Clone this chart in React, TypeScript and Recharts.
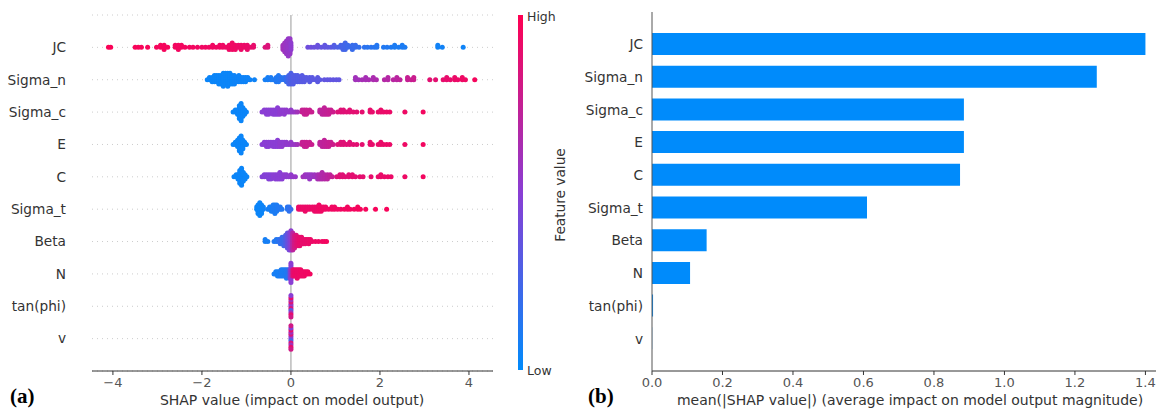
import {
  ScatterChart,
  Scatter,
  XAxis,
  YAxis,
  CartesianGrid,
  ReferenceLine,
  BarChart,
  Bar,
} from "recharts";

// feature order, top to bottom
const features = ["JC", "Sigma_n", "Sigma_c", "E", "C", "Sigma_t", "Beta", "N", "tan(phi)", "v"];
const meanAbsShap = [1.4, 1.262, 0.885, 0.885, 0.874, 0.61, 0.155, 0.108, 0.003, 0.0005];
const shapTicks = [-4, -2, 0, 2, 4];
const meanTicks = [0, 0.2, 0.4, 0.6, 0.8, 1.0, 1.2, 1.4];

// swarm clusters: [shap value, number of samples, feature value 0..1]
type Cluster = [number, number, number];

const jcSwarm: Cluster[] = [
  [-4.1, 1, 0.98], [-4.05, 1, 0.98],
  [-3.5, 1, 0.97], [-3.43, 1, 0.97], [-3.36, 1, 0.97], [-3.22, 1, 0.97],
  [-3.02, 1, 0.96], [-2.93, 2, 0.96], [-2.85, 3, 0.96], [-2.77, 1, 0.96],
  [-2.6, 2, 0.95], [-2.53, 3, 0.95], [-2.46, 2, 0.95], [-2.38, 1, 0.95], [-2.28, 1, 0.95], [-2.2, 1, 0.95],
  [-2.1, 1, 0.94], [-2.0, 1, 0.94], [-1.92, 1, 0.94], [-1.84, 1, 0.94], [-1.76, 2, 0.94], [-1.68, 1, 0.94],
  [-1.6, 2, 0.94], [-1.53, 2, 0.93], [-1.46, 1, 0.93],
  [-1.39, 3, 0.93], [-1.32, 4, 0.93], [-1.25, 3, 0.93], [-1.18, 2, 0.92], [-1.12, 3, 0.92], [-1.05, 2, 0.92],
  [-0.98, 3, 0.91], [-0.9, 1, 0.9], [-0.84, 2, 0.9],
  [-0.58, 1, 0.85], [-0.52, 2, 0.85],
  [-0.18, 3, 0.6], [-0.14, 5, 0.58], [-0.1, 7, 0.56], [-0.06, 9, 0.55], [-0.02, 8, 0.55], [0.0, 4, 0.52],
  [0.38, 1, 0.4], [0.45, 1, 0.4], [0.52, 1, 0.38], [0.6, 2, 0.38], [0.68, 1, 0.36], [0.76, 2, 0.35],
  [0.83, 1, 0.34], [0.9, 1, 0.33], [0.97, 2, 0.3], [1.05, 1, 0.28], [1.12, 2, 0.26], [1.17, 3, 0.25],
  [1.22, 4, 0.24], [1.28, 2, 0.22],
  [1.38, 3, 0.2], [1.45, 2, 0.2], [1.53, 1, 0.18], [1.65, 1, 0.16], [1.72, 1, 0.15], [1.8, 1, 0.15],
  [1.87, 1, 0.14], [1.93, 2, 0.13],
  [2.08, 1, 0.12], [2.16, 1, 0.12], [2.25, 1, 0.11], [2.33, 2, 0.1], [2.42, 1, 0.1], [2.5, 2, 0.1], [2.56, 1, 0.1],
  [3.3, 2, 0.06], [3.4, 1, 0.06], [3.87, 1, 0.05],
];

const sigmaNSwarm: Cluster[] = [
  [-1.88, 1, 0.04], [-1.83, 2, 0.04], [-1.77, 3, 0.04], [-1.72, 4, 0.04], [-1.67, 4, 0.04], [-1.62, 5, 0.04],
  [-1.57, 5, 0.04], [-1.52, 7, 0.04], [-1.47, 6, 0.04], [-1.42, 7, 0.04], [-1.37, 6, 0.04], [-1.32, 5, 0.04],
  [-1.27, 5, 0.05], [-1.22, 3, 0.05], [-1.17, 4, 0.05], [-1.12, 3, 0.05], [-1.07, 3, 0.05], [-1.02, 3, 0.05],
  [-0.97, 2, 0.05], [-0.92, 1, 0.05], [-0.82, 1, 0.05],
  [-0.58, 1, 0.08], [-0.52, 2, 0.08], [-0.45, 2, 0.1], [-0.4, 1, 0.1], [-0.33, 3, 0.12], [-0.28, 4, 0.12],
  [-0.22, 2, 0.15], [-0.15, 2, 0.15], [-0.1, 3, 0.2], [-0.05, 5, 0.25], [0.0, 6, 0.28],
  [0.05, 5, 0.3], [0.1, 4, 0.3], [0.15, 4, 0.3], [0.2, 3, 0.3], [0.25, 4, 0.32], [0.3, 3, 0.32],
  [0.35, 2, 0.32], [0.42, 3, 0.32], [0.48, 2, 0.33], [0.55, 1, 0.33], [0.6, 3, 0.33], [0.65, 1, 0.33],
  [0.75, 1, 0.35], [0.82, 1, 0.35], [0.88, 1, 0.35], [0.95, 1, 0.35], [1.02, 1, 0.35], [1.08, 1, 0.35],
  [1.45, 2, 0.6], [1.52, 1, 0.6], [1.6, 1, 0.62], [1.68, 2, 0.62], [1.75, 1, 0.63], [1.85, 2, 0.64], [1.92, 1, 0.65],
  [2.1, 1, 0.68], [2.18, 2, 0.68], [2.3, 1, 0.7], [2.38, 2, 0.7], [2.45, 1, 0.72],
  [2.62, 2, 0.75], [2.7, 1, 0.76], [2.76, 2, 0.77],
  [3.12, 1, 0.88], [3.25, 1, 0.88], [3.42, 1, 0.9], [3.5, 2, 0.9], [3.58, 1, 0.9], [3.68, 2, 0.92],
  [3.75, 1, 0.92], [3.85, 2, 0.93], [3.92, 1, 0.93], [4.13, 1, 0.96],
];

const sigmaCSwarm: Cluster[] = [
  [-1.3, 1, 0.04], [-1.25, 2, 0.04], [-1.2, 3, 0.04], [-1.16, 7, 0.04], [-1.12, 9, 0.04], [-1.08, 5, 0.04],
  [-1.04, 3, 0.04], [-1.0, 1, 0.04],
  [-0.65, 1, 0.5], [-0.6, 2, 0.5], [-0.55, 3, 0.5], [-0.5, 3, 0.5], [-0.45, 2, 0.5], [-0.4, 3, 0.5],
  [-0.35, 3, 0.5], [-0.3, 4, 0.5], [-0.25, 3, 0.52], [-0.2, 2, 0.52], [-0.15, 3, 0.52], [-0.1, 2, 0.53],
  [-0.05, 1, 0.53], [0.0, 2, 0.54], [0.05, 1, 0.55], [0.1, 1, 0.56], [0.15, 1, 0.6],
  [0.25, 2, 0.75], [0.3, 3, 0.75], [0.35, 3, 0.76], [0.42, 2, 0.76], [0.47, 1, 0.77],
  [0.65, 2, 0.72], [0.7, 3, 0.72], [0.75, 4, 0.73], [0.8, 3, 0.74], [0.85, 3, 0.75], [0.9, 2, 0.76], [0.95, 1, 0.78],
  [1.05, 1, 0.85], [1.12, 2, 0.86], [1.18, 2, 0.86], [1.25, 1, 0.87], [1.32, 2, 0.87], [1.4, 1, 0.88],
  [1.48, 1, 0.88], [1.6, 1, 0.89], [1.78, 2, 0.9], [1.83, 1, 0.9], [1.96, 1, 0.91], [2.02, 2, 0.91],
  [2.08, 1, 0.91], [2.15, 1, 0.92], [2.22, 1, 0.92], [2.56, 1, 0.93], [2.97, 1, 0.95],
];

const eSwarm: Cluster[] = [
  [-1.3, 1, 0.04], [-1.25, 2, 0.04], [-1.2, 4, 0.04], [-1.16, 7, 0.04], [-1.12, 9, 0.04], [-1.08, 5, 0.04],
  [-1.04, 2, 0.04], [-1.0, 1, 0.04],
  [-0.65, 1, 0.5], [-0.6, 2, 0.5], [-0.55, 3, 0.5], [-0.5, 3, 0.5], [-0.45, 2, 0.5], [-0.4, 3, 0.5],
  [-0.35, 3, 0.5], [-0.3, 4, 0.5], [-0.25, 3, 0.52], [-0.2, 3, 0.52], [-0.15, 2, 0.52], [-0.1, 2, 0.53],
  [-0.05, 1, 0.53], [0.0, 2, 0.54], [0.05, 1, 0.55], [0.1, 1, 0.56], [0.15, 1, 0.6],
  [0.25, 2, 0.75], [0.3, 3, 0.75], [0.35, 3, 0.76], [0.42, 2, 0.76], [0.47, 1, 0.77],
  [0.65, 2, 0.72], [0.7, 3, 0.72], [0.75, 4, 0.73], [0.8, 3, 0.74], [0.85, 3, 0.75], [0.9, 2, 0.76], [0.95, 1, 0.78],
  [1.05, 1, 0.85], [1.12, 2, 0.86], [1.18, 2, 0.86], [1.25, 1, 0.87], [1.32, 2, 0.87], [1.4, 1, 0.88],
  [1.48, 1, 0.88], [1.6, 1, 0.89], [1.78, 2, 0.9], [1.83, 1, 0.9], [1.96, 1, 0.91], [2.02, 2, 0.91],
  [2.08, 1, 0.91], [2.15, 1, 0.92], [2.22, 1, 0.92], [2.56, 1, 0.93], [2.97, 1, 0.95],
];

const cSwarm: Cluster[] = [
  [-1.28, 1, 0.04], [-1.23, 2, 0.04], [-1.19, 3, 0.04], [-1.15, 7, 0.04], [-1.11, 9, 0.04], [-1.07, 5, 0.04],
  [-1.03, 3, 0.04], [-0.99, 1, 0.04],
  [-0.65, 1, 0.48], [-0.6, 2, 0.48], [-0.55, 2, 0.48], [-0.5, 3, 0.48], [-0.45, 3, 0.48], [-0.4, 2, 0.5],
  [-0.35, 3, 0.5], [-0.3, 3, 0.5], [-0.25, 4, 0.5], [-0.2, 3, 0.5], [-0.15, 2, 0.52], [-0.1, 2, 0.52],
  [-0.05, 1, 0.52], [0.0, 2, 0.53], [0.05, 1, 0.54], [0.1, 1, 0.55],
  [0.27, 1, 0.6], [0.32, 2, 0.58], [0.37, 2, 0.56], [0.42, 3, 0.56], [0.47, 2, 0.56], [0.53, 2, 0.58],
  [0.6, 3, 0.62], [0.65, 3, 0.65], [0.7, 4, 0.66], [0.76, 3, 0.68], [0.82, 3, 0.7], [0.88, 2, 0.72], [0.93, 1, 0.75],
  [1.03, 1, 0.85], [1.1, 2, 0.86], [1.16, 2, 0.86], [1.22, 1, 0.87], [1.3, 2, 0.87], [1.38, 2, 0.88],
  [1.45, 1, 0.88], [1.55, 1, 0.89], [1.62, 1, 0.89], [1.8, 1, 0.9], [1.96, 1, 0.91], [2.02, 2, 0.91],
  [2.1, 1, 0.91], [2.18, 1, 0.92], [2.25, 1, 0.92], [2.56, 1, 0.93], [2.97, 1, 0.95],
];

const sigmaTSwarm: Cluster[] = [
  [-0.77, 2, 0.04], [-0.74, 5, 0.04], [-0.7, 7, 0.04], [-0.66, 5, 0.04], [-0.62, 2, 0.05],
  [-0.52, 1, 0.08], [-0.48, 2, 0.08], [-0.44, 3, 0.08], [-0.4, 4, 0.1], [-0.36, 5, 0.1], [-0.32, 4, 0.1],
  [-0.28, 2, 0.12], [-0.24, 2, 0.12], [-0.2, 1, 0.12],
  [-0.08, 2, 0.15], [-0.04, 3, 0.16], [0.0, 1, 0.2],
  [0.17, 2, 0.92], [0.22, 2, 0.92], [0.27, 2, 0.92], [0.32, 3, 0.92], [0.37, 2, 0.92], [0.42, 2, 0.92],
  [0.48, 2, 0.92], [0.53, 3, 0.92], [0.58, 3, 0.92], [0.63, 4, 0.93], [0.68, 3, 0.93], [0.73, 2, 0.93],
  [0.78, 2, 0.93], [0.85, 1, 0.93], [0.92, 2, 0.94], [0.98, 2, 0.94], [1.05, 1, 0.94], [1.12, 1, 0.94],
  [1.2, 1, 0.95], [1.27, 2, 0.95], [1.33, 1, 0.95], [1.42, 1, 0.95], [1.5, 2, 0.96], [1.56, 1, 0.96],
  [1.68, 1, 0.96], [1.9, 1, 0.97], [2.15, 1, 0.97],
];

const betaSwarm: Cluster[] = [
  [-0.58, 2, 0.08], [-0.52, 1, 0.08],
  [-0.38, 1, 0.12], [-0.33, 2, 0.12], [-0.28, 2, 0.15], [-0.24, 3, 0.18], [-0.2, 4, 0.2], [-0.16, 5, 0.22],
  [-0.12, 6, 0.28], [-0.08, 8, 0.35], [-0.04, 9, 0.42], [0.0, 10, 0.52],
  [0.04, 9, 0.7], [0.08, 7, 0.8], [0.12, 6, 0.85], [0.16, 5, 0.88], [0.2, 5, 0.9], [0.24, 4, 0.9],
  [0.28, 3, 0.9], [0.32, 3, 0.9], [0.36, 2, 0.91], [0.4, 3, 0.91], [0.44, 2, 0.92], [0.48, 1, 0.92],
  [0.55, 1, 0.93], [0.62, 1, 0.93], [0.7, 1, 0.94], [0.75, 1, 0.94], [0.8, 1, 0.95],
];

const nSwarm: Cluster[] = [
  [-0.38, 1, 0.08], [-0.34, 2, 0.08], [-0.3, 3, 0.08], [-0.26, 3, 0.08], [-0.22, 4, 0.1], [-0.18, 4, 0.1],
  [-0.14, 4, 0.1], [-0.1, 5, 0.12], [-0.06, 4, 0.15], [-0.02, 5, 0.4],
  [0.0, 5, 0.55], [0.0, 5, 0.5], [0.03, 4, 0.75],
  [0.06, 4, 0.9], [0.1, 4, 0.92], [0.14, 5, 0.92], [0.18, 4, 0.92], [0.22, 4, 0.93], [0.26, 3, 0.93],
  [0.3, 3, 0.93], [0.34, 2, 0.94], [0.38, 2, 0.94], [0.43, 1, 0.95],
];

const tanPhiSwarm: Cluster[] = [
  [0.0, 2, 0.55], [0.0, 2, 0.85], [0.0, 1, 0.3], [0.0, 2, 0.6], [0.0, 2, 0.9], [0.0, 1, 0.5], [0.0, 1, 0.8],
];

const vSwarm: Cluster[] = [
  [0.0, 2, 0.5], [0.0, 1, 0.25], [0.0, 2, 0.85], [0.0, 2, 0.6], [0.0, 2, 0.9], [0.0, 1, 0.45], [0.0, 2, 0.8],
];

const swarms = [jcSwarm, sigmaNSwarm, sigmaCSwarm, eSwarm, cSwarm, sigmaTSwarm, betaSwarm, nSwarm, tanPhiSwarm, vSwarm];

const FONT = "'DejaVu Sans', sans-serif";
const STEP = 0.066; // vertical dot spacing in row units

// shap red_blue colormap
const stops: [number, number[]][] = [
  [0, [0, 139, 251]],
  [0.5, [138, 62, 212]],
  [1, [255, 0, 82]],
];
function colorFor(v: number) {
  for (let i = 1; i < stops.length; i++) {
    if (v <= stops[i][0]) {
      const [a, ca] = stops[i - 1];
      const [b, cb] = stops[i];
      const t = (v - a) / (b - a);
      const c = ca.map((x, k) => Math.round(x + (cb[k] - x) * t));
      return `rgb(${c[0]},${c[1]},${c[2]})`;
    }
  }
  return "rgb(255,0,82)";
}

// stack samples that share a shap value, alternating above/below the row
function layoutRow(row: number, clusters: Cluster[]) {
  const layers = new Map<string, number>();
  const pts: { x: number; y: number; color: string }[] = [];
  for (const [shap, count, fval] of clusters) {
    const key = shap.toFixed(2);
    let layer = layers.get(key) ?? 0;
    for (let k = 0; k < count; k++) {
      const off = Math.ceil(layer / 2) * (layer % 2 === 1 ? 1 : -1);
      pts.push({ x: shap, y: row + off * STEP, color: colorFor(fval) });
      layer++;
    }
    layers.set(key, layer);
  }
  return pts;
}

const rowValue = (i: number) => features.length - i;
const rowTicks = features.map((_, i) => rowValue(i));
const barData = features.map((name, i) => ({ name, value: meanAbsShap[i] }));

const Dot = (p: any) => <circle cx={p.cx} cy={p.cy} r={2.5} fill={p.payload.color} />;

const minusFmt = (v: number) => (v < 0 ? `\u2212${Math.abs(v)}` : String(v));

export default function App() {
  return (
    <div
      style={{
        position: "absolute",
        left: 0,
        top: 0,
        width: 1162,
        height: 411,
        background: "#fff",
        fontFamily: FONT,
        overflow: "hidden",
      }}
    >
      <div style={{ position: "absolute", left: 0, top: 0 }}>
        <ScatterChart width={600} height={411} margin={{ top: 15, right: 107, bottom: 0, left: 0 }}>
          <CartesianGrid vertical={false} stroke="#cccccc" strokeDasharray="1 4" />
          <XAxis
            type="number"
            dataKey="x"
            domain={[-4.47, 4.54]}
            ticks={shapTicks}
            allowDataOverflow
            height={40}
            stroke="#333"
            tickSize={4}
            tickMargin={3}
            tickFormatter={minusFmt}
            tick={{ fontSize: 13, fill: "#555", fontFamily: FONT }}
          />
          <YAxis
            type="number"
            dataKey="y"
            domain={[0, 11]}
            ticks={rowTicks}
            width={92}
            axisLine={false}
            tickLine={false}
            tickSize={0}
            tickMargin={26}
            tickFormatter={(v: number) => features[features.length - v] ?? ""}
            tick={{ fontSize: 13.7, fill: "#333", fontFamily: FONT }}
          />
          <ReferenceLine x={0} stroke="#999" strokeWidth={1} />
          {swarms.map((s, i) => (
            <Scatter
              key={features[i]}
              data={layoutRow(rowValue(i), s)}
              shape={Dot}
              isAnimationActive={false}
            />
          ))}
        </ScatterChart>
      </div>

      {/* colour bar */}
      <div
        style={{
          position: "absolute",
          left: 518,
          top: 15,
          width: 5,
          height: 355,
          background: "linear-gradient(to top, rgb(0,139,251), rgb(138,62,212), rgb(255,0,82))",
        }}
      />
      <div style={{ position: "absolute", left: 527, top: 9, fontSize: 12.5, color: "#333" }}>High</div>
      <div style={{ position: "absolute", left: 527, top: 363, fontSize: 12.5, color: "#333" }}>Low</div>
      <div
        style={{
          position: "absolute",
          left: 560,
          top: 195,
          fontSize: 13.7,
          color: "#333",
          whiteSpace: "nowrap",
          transform: "translate(-50%, -50%) rotate(-90deg)",
        }}
      >
        Feature value
      </div>

      <div
        style={{
          position: "absolute",
          left: 292,
          top: 392,
          fontSize: 14,
          lineHeight: "16px",
          color: "#333",
          whiteSpace: "nowrap",
          transform: "translateX(-50%)",
        }}
      >
        SHAP value (impact on model output)
      </div>

      <div style={{ position: "absolute", left: 560, top: 0 }}>
        <BarChart
          width={602}
          height={411}
          layout="vertical"
          data={barData}
          margin={{ top: 12, right: 6, bottom: 0, left: 0 }}
        >
          <XAxis
            type="number"
            domain={[0, 1.43]}
            ticks={meanTicks}
            allowDataOverflow
            height={40}
            stroke="#333"
            tickSize={4}
            tickMargin={3}
            tickFormatter={(v: number) => v.toFixed(1)}
            tick={{ fontSize: 13, fill: "#555", fontFamily: FONT }}
          />
          <YAxis
            type="category"
            dataKey="name"
            width={92}
            padding={{ top: 16, bottom: 16 }}
            stroke="#555"
            tickLine={false}
            tickSize={0}
            tickMargin={9}
            tick={{ fontSize: 13.7, fill: "#333", fontFamily: FONT }}
          />
          <Bar dataKey="value" fill="#008bfb" barSize={22} isAnimationActive={false} />
        </BarChart>
      </div>

      <div
        style={{
          position: "absolute",
          left: 910,
          top: 392,
          fontSize: 14,
          lineHeight: "16px",
          color: "#333",
          whiteSpace: "nowrap",
          transform: "translateX(-50%)",
        }}
      >
        mean(|SHAP value|) (average impact on model output magnitude)
      </div>

      <div
        style={{
          position: "absolute",
          left: 10,
          top: 384,
          fontFamily: "'Liberation Serif', serif",
          fontWeight: "bold",
          fontSize: 21,
        }}
      >
        (a)
      </div>
      <div
        style={{
          position: "absolute",
          left: 588,
          top: 384,
          fontFamily: "'Liberation Serif', serif",
          fontWeight: "bold",
          fontSize: 21,
        }}
      >
        (b)
      </div>
    </div>
  );
}
